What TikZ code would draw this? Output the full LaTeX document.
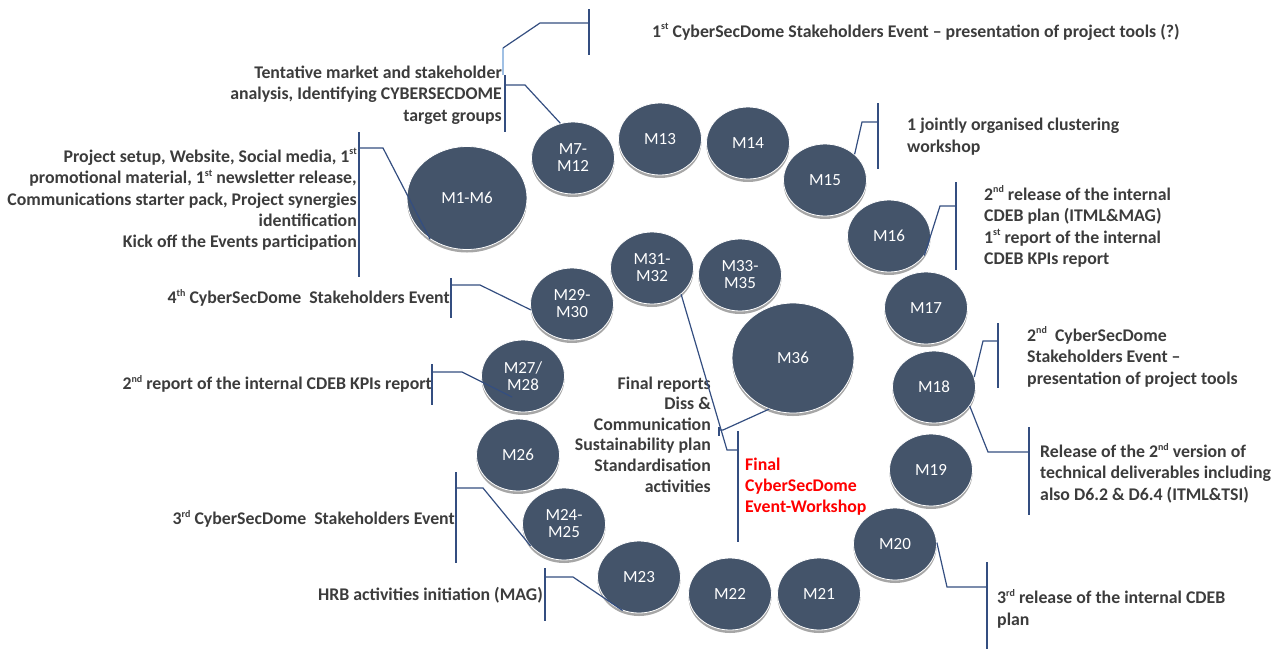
\documentclass[tikz,border=0pt]{standalone}
\usepackage{fontspec}
\setmainfont{Carlito}
\usetikzlibrary{shapes.geometric, shadows, calc}
\definecolor{slate}{RGB}{68,84,106}
\definecolor{linkblue}{RGB}{52,78,128}
\definecolor{paleblue}{RGB}{160,192,228}
\definecolor{txtgray}{RGB}{60,60,60}
\definecolor{eventred}{RGB}{255,0,0}
\newcommand{\ord}[1]{\raisebox{0.42em}{\fontsize{10}{10}\selectfont #1}}

\tikzset{
  month/.style={ellipse, fill=slate, draw=white, line width=0.8pt, text=white,
    inner sep=0pt, minimum width=83pt, minimum height=72pt, align=center,
    font=\fontsize{17}{17}\selectfont,
    drop shadow={shadow xshift=0pt, shadow yshift=-3pt, fill=black!35, opacity=1}},
  bigmonth/.style={month, minimum width=120pt, minimum height=103pt},
  note/.style={text=txtgray, inner sep=0pt, font=\bfseries\fontsize{17.8}{21.3}\selectfont},
  bar/.style={linkblue, line width=1.4pt},
  link/.style={linkblue, line width=1.2pt},
}

\begin{document}
\begin{tikzpicture}[x=1pt,y=-1pt]
    \useasboundingbox (0,0) rectangle (1283,649);
    %cerchi dei mesi
    \node[bigmonth] (m1) at (467,198) {M1-M6};
    \node[month] (m7) at (573,158) {M7-\\M12};
    \node[month] (m13) at (660,139) {M13};
    \node[month] (m14) at (748,143) {M14};
    \node[month] (m15) at (825,180) {M15};
    \node[month] (m16) at (889,236) {M16};
    \node[month] (m17) at (926,308) {M17};
    \node[month] (m18) at (934,387) {M18};
    \node[month] (m19) at (931,470) {M19};
    \node[month] (m20) at (895,544) {M20};
    \node[month] (m21) at (819,594) {M21};
    \node[month] (m22) at (730,594) {M22};
    \node[month] (m23) at (639,577) {M23};
    \node[month] (m24) at (564,524) {M24-\\M25};
    \node[month] (m26) at (518,455) {M26};
    \node[month] (m27) at (523,376) {M27/\\M28};
    \node[month] (m29) at (572,304) {M29-\\M30};
    \node[month] (m31) at (652,268) {M31-\\M32};
    \node[month] (m33) at (740,275) {M33-\\M35};
    \node[bigmonth, minimum width=122pt, minimum height=110pt] (m36) at (793,358) {M36};

    %testi a sinistra
    \node[note, anchor=east, align=right] (t2) at (502,95) {Tentative market and stakeholder\\analysis, Identifying CYBERSECDOME\\target groups};
    \node[note, anchor=east, align=right] (t3) at (357,199.5) {Project setup, Website, Social media, 1\ord{st}\\promotional material, 1\ord{st} newsletter release,\\Communications starter pack, Project synergies\\identification\\Kick off the Events participation};
    \node[note, anchor=east] (t4) at (450,298) {4\ord{th} CyberSecDome\ \ Stakeholders Event};
    \node[note, anchor=east] (t5) at (432,384) {2\ord{nd} report of the internal CDEB KPIs report};
    \node[note, anchor=east] (t6) at (455,519) {3\ord{rd} CyberSecDome\ \ Stakeholders Event};
    \node[note, anchor=east] (t7) at (543,595) {HRB activities initiation (MAG)};
    \node[note, anchor=east, align=right, font=\bfseries\fontsize{17.8}{20.6}\selectfont] (t13) at (711,434.5) {Final reports\\Diss \&\\Communication\\Sustainability plan\\Standardisation\\activities};

    %testi a destra
    \node[note, anchor=west] (t1) at (652,32) {1\ord{st} CyberSecDome Stakeholders Event -- presentation of project tools (?)};
    \node[note, anchor=west, align=left] (t8) at (907,136.5) {1 jointly organised clustering\\workshop};
    \node[note, anchor=west, align=left] (t9) at (984,226.5) {2\ord{nd} release of the internal\\CDEB plan (ITML\&MAG)\\1\ord{st} report of the internal\\CDEB KPIs report};
    \node[note, anchor=west, align=left] (t10) at (1027,357) {2\ord{nd}\ \ CyberSecDome\\Stakeholders Event --\\presentation of project tools};
    \node[note, anchor=west, align=left] (t11) at (1040,473) {Release of the 2\ord{nd} version of\\technical deliverables including\\also D6.2 \& D6.4 (ITML\&TSI)};
    \node[note, anchor=west, align=left] (t12) at (997,608.5) {3\ord{rd} release of the internal CDEB\\plan};
    \node[note, anchor=west, align=left, text=eventred] (t14) at (745,486.5) {Final\\CyberSecDome\\Event-Workshop};

    %punti di aggancio sulle barre
    \coordinate (j1) at (589,23);
    \coordinate (j2) at (505,85);
    \coordinate (j3) at (359,148);
    \coordinate (j4) at (451,285);
    \coordinate (j5) at (432,372);
    \coordinate (j6) at (456,488);
    \coordinate (j7) at (545,577);
    \coordinate (j8) at (878,122);
    \coordinate (j9) at (956,206);
    \coordinate (j10) at (998,341);
    \coordinate (j11) at (1029,452);
    \coordinate (j12) at (987,587);
    \coordinate (j13) at (738,450);
    \coordinate (j14) at (719,430);

    %barre
    \draw[bar] (589,9) -- (589,55);
    \draw[bar] (505,75) -- (505,132);
    \draw[bar] (359,132) -- (359,277);
    \draw[bar] (451,278) -- (451,318);
    \draw[bar] (432,364) -- (432,405);
    \draw[bar] (456,472) -- (456,563);
    \draw[bar] (545,568) -- (545,621);
    \draw[bar] (878,103) -- (878,169);
    \draw[bar] (956,182) -- (956,270);
    \draw[bar] (998,323) -- (998,388);
    \draw[bar] (1029,427) -- (1029,515);
    \draw[bar] (987,562) -- (987,649);
    \draw[bar] (738,431) -- (738,542);
    \draw[bar] (719,427) -- (719,436);

    %collegamenti
    \draw[paleblue, line width=1.2pt] (503,48) -- (503,75);
    \draw[link] (503,48) -- (540,23) -- (j1);
    \draw[link] (m7.110) -- (525,85) -- (j2);
    \draw[link] (m1.228) -- (383,148) -- (j3);
    \draw[link] (m29.188) -- (480,285) -- (j4);
    \draw[link] ($(m27)+(-11,21)$) -- (462,372) -- (j5);
    \draw[link] (m24.213) -- (483,488) -- (j6);
    \draw[link] (m23.244) -- (573,577) -- (j7);
    \draw[link] (m15.41) -- (862,122) -- (j8);
    \draw[link] (m16.331) -- (940,206) -- (j9);
    \draw[link] (m18.14) -- (983,341) -- (j10);
    \draw[link] (m18.332) -- (988,452) -- (j11);
    \draw[link] (m20.2) -- (947,587) -- (j12);
    \draw[link] (m31.318) -- (727,450) -- (j13);
    \draw[link] (m36.245) -- (723,430) -- (j14);
\end{tikzpicture}
\end{document}
